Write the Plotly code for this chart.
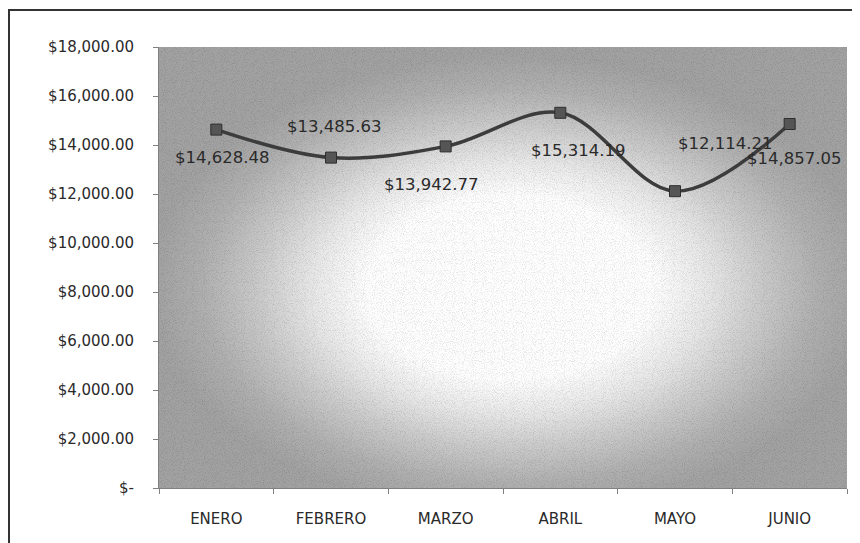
import base64
import plotly.graph_objects as go

# ---- data ----
months = ["ENERO", "FEBRERO", "MARZO", "ABRIL", "MAYO", "JUNIO"]
sales = [14628.48, 13485.63, 13942.77, 15314.19, 12114.21, 14857.05]
y_tick_vals = [0, 2000, 4000, 6000, 8000, 10000, 12000, 14000, 16000, 18000]
y_tick_text = ["$-", "$2,000.00", "$4,000.00", "$6,000.00", "$8,000.00",
               "$10,000.00", "$12,000.00", "$14,000.00", "$16,000.00", "$18,000.00"]
# label offsets in pixels (dx, dy) relative to each point
label_dx = [6, 3, -15, 18, 50, 4]
label_dy = [-28, 31, -38, -38, 48, -34]

# page has an 8px body margin; figure is sized so the chart lands where the reference has it
W, H = 852, 535
L, R, T, B = 151, 13, 39, 55
PW, PH = W - L - R, H - T - B

# ---- plot-area soft radial gradient as SVG ----
svg = f'''<svg xmlns="http://www.w3.org/2000/svg" width="{PW}" height="{PH}" viewBox="0 0 {PW} {PH}" preserveAspectRatio="none">
<defs>
<radialGradient id="g" cx="0.51" cy="0.54" r="0.52" fx="0.51" fy="0.55">
<stop offset="0" stop-color="#ffffff"/>
<stop offset="0.40" stop-color="#fefefe"/>
<stop offset="0.55" stop-color="#e8e8e8"/>
<stop offset="0.70" stop-color="#cbcbcb"/>
<stop offset="0.86" stop-color="#b0b0b0"/>
<stop offset="1" stop-color="#a2a2a2"/>
</radialGradient>
<filter id="n" x="0" y="0" width="100%" height="100%">
<feTurbulence type="fractalNoise" baseFrequency="1.1" numOctaves="1" seed="3" result="t"/>
<feColorMatrix in="t" type="matrix" values="0 0 0 0 0  0 0 0 0 0  0 0 0 0 0  0 0 0 -1.2 0.65"/>
</filter>
</defs>
<rect x="0" y="0" width="{PW}" height="{PH}" fill="#9d9d9d"/>
<rect x="0" y="0" width="{PW}" height="{PH}" fill="url(#g)"/>
<rect x="0" y="0" width="{PW}" height="{PH}" filter="url(#n)" opacity="0.3"/>
</svg>'''
bg_src = "data:image/svg+xml;base64," + base64.b64encode(svg.encode()).decode()

font = "DejaVu Sans"
fig = go.Figure()
fig.add_trace(go.Scatter(
    x=months, y=sales, mode="lines+markers",
    line=dict(shape="spline", smoothing=1.0, color="#3c3c3c", width=3.5),
    marker=dict(symbol="square", size=11, color="#555555",
                line=dict(color="#2e2e2e", width=1)),
    hoverinfo="x+y", showlegend=False,
))

for m, v, dx, dy in zip(months, sales, label_dx, label_dy):
    fig.add_annotation(x=m, y=v, xref="x", yref="y", text=f"${v:,.2f}",
                       showarrow=False, xshift=dx, yshift=dy,
                       font=dict(family=font, size=16.5, color="#2a2a2a"))

fig.add_layout_image(dict(source=bg_src, xref="paper", yref="paper", x=0, y=1,
                          sizex=1, sizey=1, sizing="stretch", xanchor="left",
                          yanchor="top", layer="below"))

# outer chart border (left/top visible, right/bottom beyond the frame)
fig.add_shape(type="rect", xref="paper", yref="paper",
              x0=(1 - L) / PW, x1=(870 - L) / PW,
              y0=(PH + T - 545) / PH, y1=(PH + T - 2) / PH,
              line=dict(color="#333333", width=2), fillcolor="rgba(0,0,0,0)")

fig.update_layout(
    width=W, height=H,
    margin=dict(l=L, r=R, t=T, b=B, pad=0),
    paper_bgcolor="white", plot_bgcolor="rgba(0,0,0,0)",
    font=dict(family=font, size=15, color="#2a2a2a"),
    xaxis=dict(type="category", showgrid=False, zeroline=False,
               showline=True, linecolor="#808080", linewidth=1,
               ticks="outside", tickson="boundaries", ticklen=5,
               tickcolor="#808080", ticklabelstandoff=17,
               tickfont=dict(family=font, size=15, color="#2a2a2a"),
               range=[-0.5, 5.5]),
    yaxis=dict(range=[0, 18000], tickvals=y_tick_vals, ticktext=y_tick_text,
               showgrid=False, zeroline=False, showline=True,
               linecolor="#808080", linewidth=1, ticks="outside", ticklen=5,
               tickcolor="#808080", ticklabelstandoff=16,
               tickfont=dict(family=font, size=15, color="#2a2a2a")),
)

fig.write_html("out.html", post_script="document.body.style.overflow='hidden';")
